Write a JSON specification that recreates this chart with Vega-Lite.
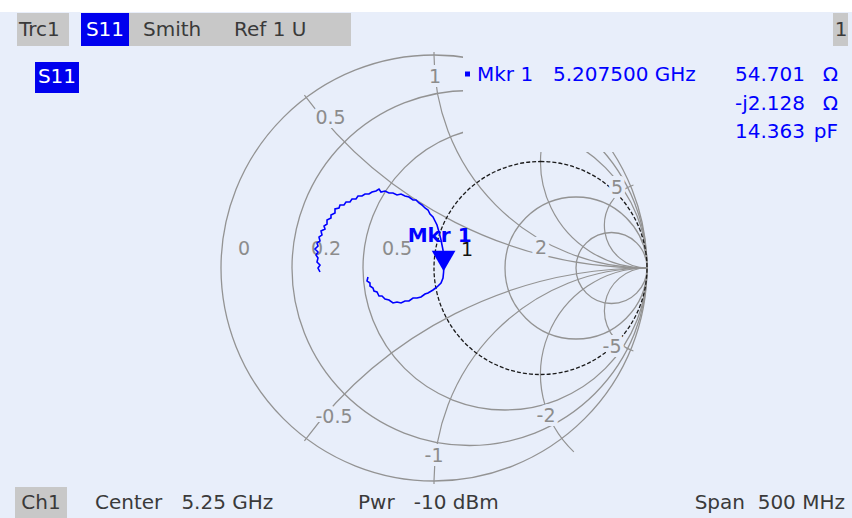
{
  "$schema": "https://vega.github.io/schema/vega-lite/v6.json",
  "width": 852,
  "height": 506,
  "autosize": {"type": "none"},
  "padding": {"left": 0, "right": 0, "top": 12, "bottom": 0},
  "background": "#FFFFFF",
  "config": {"view": {"fill": "#E8EEFA", "stroke": null}},
  "datasets": {
    "circles": [
      {"gx": 0, "gy": 0, "rho": 1, "t1": 0, "t2": 6.28319},
      {"gx": 0.16667, "gy": 0, "rho": 0.83333, "t1": 0, "t2": 6.28319},
      {"gx": 0.33333, "gy": 0, "rho": 0.66667, "t1": 0, "t2": 6.28319},
      {"gx": 0.66667, "gy": 0, "rho": 0.33333, "t1": 0, "t2": 6.28319},
      {"gx": 0.83333, "gy": 0, "rho": 0.16667, "t1": 0, "t2": 6.28319}
    ],
    "xarcs": [
      {"gx": 1, "gy": 2, "rho": 2, "t1": 3.14159, "t2": 4.07594},
      {"gx": 1, "gy": 1, "rho": 1, "t1": 3.14159, "t2": 4.72647},
      {"gx": 1, "gy": 0.5, "rho": 0.5, "t1": 3.14159, "t2": 5.38406},
      {"gx": 1, "gy": 0.2, "rho": 0.2, "t1": 3.14159, "t2": 5.95881},
      {"gx": 1, "gy": -2, "rho": 2, "t1": 5.34885, "t2": 6.28319},
      {"gx": 1, "gy": -1, "rho": 1, "t1": 4.69831, "t2": 6.28319},
      {"gx": 1, "gy": -0.5, "rho": 0.5, "t1": 3.89912, "t2": 6.28319},
      {"gx": 1, "gy": -0.2, "rho": 0.2, "t1": 3.46596, "t2": 6.28319}
    ],
    "r1": [
      {"gx": 0.5, "gy": 0, "rho": 0.5, "t1": 0, "t2": 6.28319}
    ],
    "labels": [
      {"gx": -0.892, "gy": 0.0869, "text": "0", "c": "grid"},
      {"gx": -0.507, "gy": 0.0869, "text": "0.2", "c": "grid"},
      {"gx": -0.1737, "gy": 0.0869, "text": "0.5", "c": "grid"},
      {"gx": 0.1549, "gy": 0.0845, "text": "1", "c": "black"},
      {"gx": 0.5023, "gy": 0.0939, "text": "2", "c": "grid"},
      {"gx": 0.8592, "gy": 0.3756, "text": "5", "c": "grid"},
      {"gx": 0.8357, "gy": -0.3709, "text": "-5", "c": "grid"},
      {"gx": 0.5258, "gy": -0.6948, "text": "-2", "c": "grid"},
      {"gx": 0, "gy": -0.8826, "text": "-1", "c": "grid"},
      {"gx": -0.4695, "gy": -0.6995, "text": "-0.5", "c": "grid"},
      {"gx": -0.4859, "gy": 0.7019, "text": "0.5", "c": "grid"},
      {"gx": 0.0047, "gy": 0.8967, "text": "1", "c": "grid"}
    ],
    "knock": [
      {"gx": 0.1362, "gx2": 1.9624, "gy": 0.9953, "gy2": 0.5446, "c": "bg"}
    ],
    "trace": [
      {"i": 1, "gx": -0.5352, "gy": -0.0188},
      {"i": 2, "gx": -0.5446, "gy": 0},
      {"i": 3, "gx": -0.5352, "gy": 0.0141},
      {"i": 4, "gx": -0.5493, "gy": 0.0282},
      {"i": 5, "gx": -0.5446, "gy": 0.0469},
      {"i": 6, "gx": -0.554, "gy": 0.061},
      {"i": 7, "gx": -0.5446, "gy": 0.0751},
      {"i": 8, "gx": -0.5587, "gy": 0.0892},
      {"i": 9, "gx": -0.5446, "gy": 0.1033},
      {"i": 10, "gx": -0.5493, "gy": 0.1174},
      {"i": 11, "gx": -0.5352, "gy": 0.1268},
      {"i": 12, "gx": -0.5399, "gy": 0.1455},
      {"i": 13, "gx": -0.5258, "gy": 0.1549},
      {"i": 14, "gx": -0.5305, "gy": 0.1737},
      {"i": 15, "gx": -0.5117, "gy": 0.1831},
      {"i": 16, "gx": -0.5164, "gy": 0.1972},
      {"i": 17, "gx": -0.5023, "gy": 0.2066},
      {"i": 18, "gx": -0.5023, "gy": 0.2254},
      {"i": 19, "gx": -0.4836, "gy": 0.2347},
      {"i": 20, "gx": -0.4836, "gy": 0.2488},
      {"i": 21, "gx": -0.4648, "gy": 0.2582},
      {"i": 22, "gx": -0.4648, "gy": 0.277},
      {"i": 23, "gx": -0.446, "gy": 0.2817},
      {"i": 24, "gx": -0.4413, "gy": 0.2958},
      {"i": 25, "gx": -0.4225, "gy": 0.2958},
      {"i": 26, "gx": -0.4131, "gy": 0.3099},
      {"i": 27, "gx": -0.3944, "gy": 0.3099},
      {"i": 28, "gx": -0.385, "gy": 0.3239},
      {"i": 29, "gx": -0.3662, "gy": 0.3239},
      {"i": 30, "gx": -0.3568, "gy": 0.338},
      {"i": 31, "gx": -0.338, "gy": 0.338},
      {"i": 32, "gx": -0.3239, "gy": 0.3474},
      {"i": 33, "gx": -0.3052, "gy": 0.3474},
      {"i": 34, "gx": -0.2911, "gy": 0.3568},
      {"i": 35, "gx": -0.2723, "gy": 0.3615},
      {"i": 36, "gx": -0.2582, "gy": 0.3709},
      {"i": 37, "gx": -0.2488, "gy": 0.3568},
      {"i": 38, "gx": -0.23, "gy": 0.3615},
      {"i": 39, "gx": -0.2113, "gy": 0.3521},
      {"i": 40, "gx": -0.1925, "gy": 0.3521},
      {"i": 41, "gx": -0.1737, "gy": 0.3427},
      {"i": 42, "gx": -0.1549, "gy": 0.3474},
      {"i": 43, "gx": -0.1362, "gy": 0.338},
      {"i": 44, "gx": -0.1174, "gy": 0.3333},
      {"i": 45, "gx": -0.0986, "gy": 0.3192},
      {"i": 46, "gx": -0.0845, "gy": 0.3192},
      {"i": 47, "gx": -0.0704, "gy": 0.3052},
      {"i": 48, "gx": -0.0563, "gy": 0.2958},
      {"i": 49, "gx": -0.0423, "gy": 0.2817},
      {"i": 50, "gx": -0.0282, "gy": 0.2723},
      {"i": 51, "gx": -0.0188, "gy": 0.2535},
      {"i": 52, "gx": -0.0047, "gy": 0.2394},
      {"i": 53, "gx": 0.0047, "gy": 0.2207},
      {"i": 54, "gx": 0.0141, "gy": 0.2019},
      {"i": 55, "gx": 0.0235, "gy": 0.169},
      {"i": 56, "gx": 0.0329, "gy": 0.1315},
      {"i": 57, "gx": 0.0423, "gy": 0.0845},
      {"i": 58, "gx": 0.0469, "gy": 0.0376},
      {"i": 59, "gx": 0.0451, "gy": -0.0188},
      {"i": 60, "gx": 0.0423, "gy": -0.0469},
      {"i": 61, "gx": 0.0329, "gy": -0.0704},
      {"i": 62, "gx": 0.0141, "gy": -0.0892},
      {"i": 63, "gx": -0.0047, "gy": -0.1033},
      {"i": 64, "gx": -0.0282, "gy": -0.1174},
      {"i": 65, "gx": -0.0423, "gy": -0.1221},
      {"i": 66, "gx": -0.061, "gy": -0.1362},
      {"i": 67, "gx": -0.0798, "gy": -0.1408},
      {"i": 68, "gx": -0.0986, "gy": -0.1408},
      {"i": 69, "gx": -0.1174, "gy": -0.1549},
      {"i": 70, "gx": -0.1362, "gy": -0.1549},
      {"i": 71, "gx": -0.1549, "gy": -0.1643},
      {"i": 72, "gx": -0.1737, "gy": -0.1596},
      {"i": 73, "gx": -0.1925, "gy": -0.1643},
      {"i": 74, "gx": -0.2113, "gy": -0.1502},
      {"i": 75, "gx": -0.23, "gy": -0.1455},
      {"i": 76, "gx": -0.2441, "gy": -0.1315},
      {"i": 77, "gx": -0.2582, "gy": -0.1315},
      {"i": 78, "gx": -0.2676, "gy": -0.1127},
      {"i": 79, "gx": -0.2817, "gy": -0.108},
      {"i": 80, "gx": -0.2864, "gy": -0.0939},
      {"i": 81, "gx": -0.3005, "gy": -0.0845},
      {"i": 82, "gx": -0.3005, "gy": -0.0704},
      {"i": 83, "gx": -0.3146, "gy": -0.061},
      {"i": 84, "gx": -0.3099, "gy": -0.0423}
    ],
    "marker": [
      {"gx": 0.0451, "gy": -0.0188, "text": "Mkr 1"}
    ],
    "boxes": [
      {"gx": -1.9577, "gx2": -1.7136, "gy": 1.1972, "gy2": 1.0423, "c": "gray"},
      {"gx": -1.6573, "gx2": -1.4319, "gy": 1.1972, "gy2": 1.0423, "c": "blue2"},
      {"gx": -1.4319, "gx2": -0.3897, "gy": 1.1972, "gy2": 1.0423, "c": "gray"},
      {"gx": 1.8732, "gx2": 1.9437, "gy": 1.1972, "gy2": 1.0423, "c": "gray"},
      {"gx": -1.8732, "gx2": -1.6667, "gy": 0.9671, "gy2": 0.8216, "c": "blue2"},
      {"gx": -1.9671, "gx2": -1.723, "gy": -1.0282, "gy2": -1.1737, "c": "gray"}
    ],
    "textLeft": [
      {"gx": -1.9484, "gy": 1.1197, "text": "Trc1", "c": "dark"},
      {"gx": -1.3662, "gy": 1.1197, "text": "Smith", "c": "dark"},
      {"gx": -0.939, "gy": 1.1197, "text": "Ref 1 U", "c": "dark"},
      {"gx": 0.2019, "gy": 0.9061, "text": "Mkr 1", "c": "blue"},
      {"gx": 0.5587, "gy": 0.9061, "text": "5.207500 GHz", "c": "blue"},
      {"gx": 1.4131, "gy": 0.9061, "text": "54.701", "c": "blue"},
      {"gx": 1.4131, "gy": 0.7723, "text": "-j2.128", "c": "blue"},
      {"gx": 1.4131, "gy": 0.6385, "text": "14.363", "c": "blue"},
      {"gx": -1.5915, "gy": -1.1033, "text": "Center\u00a0\u00a0\u00a05.25 GHz", "c": "dark"},
      {"gx": -0.3568, "gy": -1.1033, "text": "Pwr\u00a0\u00a0\u00a0-10 dBm", "c": "dark"}
    ],
    "textCenter": [
      {"gx": -1.5446, "gy": 1.1197, "text": "S11", "c": "white"},
      {"gx": -1.77, "gy": 0.8944, "text": "S11", "c": "white"},
      {"gx": 1.9108, "gy": 1.1197, "text": "1", "c": "dark"},
      {"gx": -1.8451, "gy": -1.1033, "text": "Ch1", "c": "dark"}
    ],
    "textRight": [
      {"gx": 1.8967, "gy": 0.9061, "text": "Ω", "c": "blue"},
      {"gx": 1.8967, "gy": 0.7723, "text": "Ω", "c": "blue"},
      {"gx": 1.8967, "gy": 0.6385, "text": "pF", "c": "blue"},
      {"gx": 1.9296, "gy": -1.1033, "text": "Span\u00a0\u00a0500 MHz", "c": "dark"}
    ],
    "square": [
      {"gx": 0.1573, "gy": 0.9108}
    ]
  },
  "encoding": {
    "x": {"field": "gx", "type": "quantitative", "scale": {"domain": [-2.037559, 1.962441], "nice": false, "zero": false}, "axis": null},
    "y": {"field": "gy", "type": "quantitative", "scale": {"domain": [-1.173709, 1.201878], "nice": false, "zero": false}, "axis": null}
  },
  "layer": [
    {
      "data": {"name": "circles"},
      "mark": {"type": "arc", "filled": false, "stroke": "#939393", "strokeWidth": 1.3},
      "encoding": {
        "theta": {"field": "t1", "type": "quantitative", "stack": null, "scale": {"domain": [0, 6.283185307], "range": [0, 6.283185307]}},
        "theta2": {"field": "t2"},
        "radius": {"field": "rho", "type": "quantitative", "scale": {"type": "linear", "domain": [0, 1], "range": [0, 213], "zero": true}}
      }
    },
    {
      "data": {"name": "xarcs"},
      "mark": {"type": "arc", "filled": false, "stroke": "#939393", "strokeWidth": 1.2},
      "encoding": {
        "theta": {"field": "t1", "type": "quantitative", "stack": null, "scale": {"domain": [0, 6.283185307], "range": [0, 6.283185307]}},
        "theta2": {"field": "t2"},
        "radius": {"field": "rho", "type": "quantitative", "scale": {"type": "linear", "domain": [0, 1], "range": [0, 213], "zero": true}},
        "radius2": {"field": "rho"}
      }
    },
    {
      "data": {"values": [{}]},
      "mark": {"type": "rule", "stroke": "#939393", "strokeWidth": 1.3},
      "encoding": {"x": {"datum": -1}, "x2": {"datum": 1}, "y": {"datum": 0}}
    },
    {
      "data": {"name": "r1"},
      "mark": {"type": "arc", "filled": false, "stroke": "#1A1A1A", "strokeWidth": 1.3, "strokeDash": [4, 2]},
      "encoding": {
        "theta": {"field": "t1", "type": "quantitative", "stack": null, "scale": {"domain": [0, 6.283185307], "range": [0, 6.283185307]}},
        "theta2": {"field": "t2"},
        "radius": {"field": "rho", "type": "quantitative", "scale": {"type": "linear", "domain": [0, 1], "range": [0, 213], "zero": true}}
      }
    },
    {
      "data": {"name": "labels"},
      "mark": {"type": "text", "font": "DejaVu Sans", "fontSize": 19, "align": "center", "baseline": "middle", "fill": "#E8EEFA", "stroke": "#E8EEFA", "strokeWidth": 8, "strokeJoin": "round"},
      "encoding": {"text": {"field": "text"}}
    },
    {
      "data": {"name": "knock"},
      "mark": {"type": "rect", "fill": "#E8EEFA"},
      "encoding": {"x2": {"field": "gx2"}, "y2": {"field": "gy2"}}
    },
    {
      "data": {"name": "labels"},
      "mark": {"type": "text", "font": "DejaVu Sans", "fontSize": 19, "align": "center", "baseline": "middle"},
      "encoding": {
        "text": {"field": "text"},
        "color": {"field": "c", "type": "nominal", "legend": null, "scale": {"domain": ["dark", "white", "blue", "grid", "black", "gray", "blue2", "bg"], "range": ["#3A3A3A", "#FFFFFF", "#0000FF", "#8C8C8C", "#111111", "#C8C8C8", "#0000EE", "#E8EEFA"]}}
      }
    },
    {
      "data": {"name": "trace"},
      "mark": {"type": "line", "stroke": "#0000FF", "strokeWidth": 1.6},
      "encoding": {"order": {"field": "i", "type": "quantitative"}}
    },
    {
      "data": {"name": "marker"},
      "mark": {"type": "point", "shape": "triangle-down", "filled": true, "fill": "#0000FF", "size": 560, "opacity": 1, "yOffset": -11},
      "encoding": {}
    },
    {
      "data": {"name": "marker"},
      "mark": {"type": "text", "font": "DejaVu Sans", "fontSize": 20, "fontWeight": "bold", "fill": "#0000FF", "align": "center", "baseline": "middle", "dx": -4, "dy": -36},
      "encoding": {"text": {"field": "text"}}
    },
    {
      "data": {"name": "boxes"},
      "mark": {"type": "rect"},
      "encoding": {
        "x2": {"field": "gx2"},
        "y2": {"field": "gy2"},
        "color": {"field": "c", "type": "nominal", "legend": null, "scale": {"domain": ["dark", "white", "blue", "grid", "black", "gray", "blue2", "bg"], "range": ["#3A3A3A", "#FFFFFF", "#0000FF", "#8C8C8C", "#111111", "#C8C8C8", "#0000EE", "#E8EEFA"]}}
      }
    },
    {
      "data": {"name": "square"},
      "mark": {"type": "point", "shape": "square", "filled": true, "fill": "#0000FF", "size": 25, "opacity": 1},
      "encoding": {}
    },
    {
      "data": {"name": "textLeft"},
      "mark": {"type": "text", "font": "DejaVu Sans", "fontSize": 20, "align": "left", "baseline": "middle"},
      "encoding": {
        "text": {"field": "text"},
        "color": {"field": "c", "type": "nominal", "legend": null, "scale": {"domain": ["dark", "white", "blue", "grid", "black", "gray", "blue2", "bg"], "range": ["#3A3A3A", "#FFFFFF", "#0000FF", "#8C8C8C", "#111111", "#C8C8C8", "#0000EE", "#E8EEFA"]}}
      }
    },
    {
      "data": {"name": "textCenter"},
      "mark": {"type": "text", "font": "DejaVu Sans", "fontSize": 20, "align": "center", "baseline": "middle"},
      "encoding": {
        "text": {"field": "text"},
        "color": {"field": "c", "type": "nominal", "legend": null, "scale": {"domain": ["dark", "white", "blue", "grid", "black", "gray", "blue2", "bg"], "range": ["#3A3A3A", "#FFFFFF", "#0000FF", "#8C8C8C", "#111111", "#C8C8C8", "#0000EE", "#E8EEFA"]}}
      }
    },
    {
      "data": {"name": "textRight"},
      "mark": {"type": "text", "font": "DejaVu Sans", "fontSize": 20, "align": "right", "baseline": "middle"},
      "encoding": {
        "text": {"field": "text"},
        "color": {"field": "c", "type": "nominal", "legend": null, "scale": {"domain": ["dark", "white", "blue", "grid", "black", "gray", "blue2", "bg"], "range": ["#3A3A3A", "#FFFFFF", "#0000FF", "#8C8C8C", "#111111", "#C8C8C8", "#0000EE", "#E8EEFA"]}}
      }
    },
    {
      "data": {"values": [{}]},
      "mark": {"type": "rule", "stroke": "#1A1A1A", "strokeWidth": 2},
      "encoding": {"x": {"datum": -2.037559}, "x2": {"datum": 1.962441}, "y": {"datum": 1.201878}}
    }
  ]
}
